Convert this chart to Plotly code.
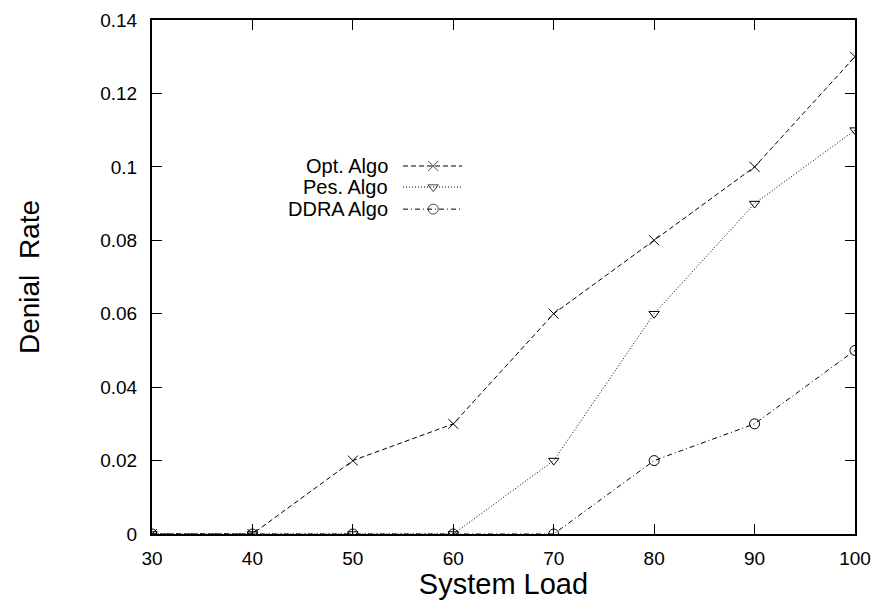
import plotly.graph_objects as go

loads = [30, 40, 50, 60, 70, 80, 90, 100]
opt = [0, 0, 0.02, 0.03, 0.06, 0.08, 0.10, 0.13]
pes = [0, 0, 0, 0, 0.02, 0.06, 0.09, 0.11]
ddra = [0, 0, 0, 0, 0, 0.02, 0.03, 0.05]
names = ["Opt. Algo", "Pes. Algo", "DDRA Algo"]
y_ticks = [0, 0.02, 0.04, 0.06, 0.08, 0.1, 0.12, 0.14]
y_labels = ["0", "0.02", "0.04", "0.06", "0.08", "0.1", "0.12", "0.14"]
x_ticks = loads

styles = [
    dict(dash="5px,3px", symbol="x-thin-open", size=10),
    dict(dash="1px,2px", symbol="triangle-down-open", size=9),
    dict(dash="5px,3px,1px,3px", symbol="circle-open", size=10),
]
series = [opt, pes, ddra]

fig = go.Figure()
for name, ys, st in zip(names, series, styles):
    fig.add_trace(go.Scatter(
        x=loads, y=ys, mode="lines+markers", name=name, showlegend=False,
        line=dict(color="black", width=1, dash=st["dash"]),
        marker=dict(symbol=st["symbol"], size=st["size"], color="black",
                    line=dict(color="black", width=1)),
    ))

# custom legend (text right-aligned, sample to the right)
leg_y = [0.716, 0.675, 0.632]
for i, (name, st) in enumerate(zip(names, styles)):
    fig.add_trace(go.Scatter(
        x=[0.357, 0.400, 0.441], y=[leg_y[i]] * 3, xaxis="x2", yaxis="y2",
        mode="lines+markers", showlegend=False, hoverinfo="skip",
        line=dict(color="black", width=1, dash=st["dash"]),
        marker=dict(symbol=st["symbol"], size=[0, st["size"], 0], color="black",
                    line=dict(color="black", width=1)),
    ))
    fig.add_annotation(x=0.3385, y=leg_y[i], xref="x2", yref="y2", text=name,
                       showarrow=False, xanchor="right", yanchor="middle",
                       font=dict(size=20, color="black"))

axis_common = dict(showline=True, linecolor="black", linewidth=2, mirror="ticks",
                   ticks="inside", ticklen=10, tickcolor="black", tickwidth=1,
                   showgrid=False, zeroline=False, automargin=False,
                   tickfont=dict(size=19, color="black"))
fig.update_layout(
    width=875, height=600,
    margin=dict(l=152, r=20, t=20, b=66),
    paper_bgcolor="white", plot_bgcolor="white",
    font=dict(family="Liberation Sans, Arial, sans-serif", color="black"),
    xaxis=dict(range=[30, 100], tickvals=x_ticks, ticklabelstandoff=6, **axis_common,
               title=dict(text="System Load", font=dict(size=29), standoff=3)),
    yaxis=dict(range=[0, 0.14], tickvals=y_ticks, ticktext=y_labels,
               ticklabelstandoff=9, **axis_common,
               title=dict(text="Denial  Rate", font=dict(size=28), standoff=52)),
    xaxis2=dict(range=[0, 1], domain=[0, 1], overlaying="x", visible=False),
    yaxis2=dict(range=[0, 1], domain=[0, 1], overlaying="y", visible=False),
)
fig.write_html("out.html")
